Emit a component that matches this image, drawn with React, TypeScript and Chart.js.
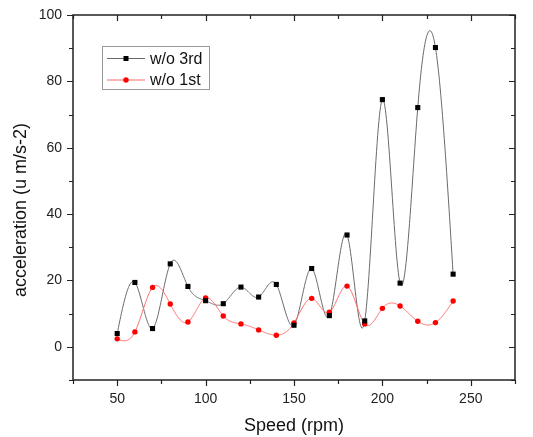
import React, { useEffect, useRef } from "react";
import { Chart, registerables } from "chart.js";

Chart.register(...registerables);

const speeds = [50, 60, 70, 80, 90, 100, 110, 120, 130, 140, 150, 160, 170, 180, 190, 200, 210, 220, 230, 240];
const wo3rd = [4, 19.4, 5.5, 25, 18.2, 13.9, 13, 18, 15, 18.8, 6.5, 23.6, 9.4, 33.7, 7.8, 74.5, 19.2, 72.1, 90.2, 21.9];
const wo1st = [2.4, 4.5, 17.9, 12.9, 7.5, 14.7, 9.3, 6.9, 5.1, 3.5, 7.2, 14.6, 10.4, 18.3, 6.9, 11.6, 12.3, 7.7, 7.3, 13.8];
const seriesLabels = ["w/o 3rd", "w/o 1st"];
const xLabelTicks = [50, 100, 150, 200, 250];
const yLabelTicks = [0, 20, 40, 60, 80, 100];
const xTitle = "Speed (rpm)";
const yTitle = "acceleration (u m/s-2)";

const FONT = "'Liberation Sans', Arial, sans-serif";

// natural cubic spline second derivatives
function splineM(xs: number[], ys: number[]) {
  const n = xs.length;
  const a = new Array(n).fill(0), b = new Array(n).fill(0), c = new Array(n).fill(0), d = new Array(n).fill(0);
  b[0] = 1; b[n - 1] = 1;
  for (let i = 1; i < n - 1; i++) {
    const h0 = xs[i] - xs[i - 1], h1 = xs[i + 1] - xs[i];
    a[i] = h0; b[i] = 2 * (h0 + h1); c[i] = h1;
    d[i] = 6 * ((ys[i + 1] - ys[i]) / h1 - (ys[i] - ys[i - 1]) / h0);
  }
  for (let i = 1; i < n; i++) {
    const m = a[i] / b[i - 1];
    b[i] -= m * c[i - 1];
    d[i] -= m * d[i - 1];
  }
  const M = new Array(n).fill(0);
  M[n - 1] = d[n - 1] / b[n - 1];
  for (let i = n - 2; i >= 0; i--) M[i] = (d[i] - c[i] * M[i + 1]) / b[i];
  return M;
}

const splinePlugin = {
  id: "spline",
  beforeDatasetsDraw(chart: any) {
    const ctx = chart.ctx;
    const xs = chart.scales.x, ys = chart.scales.y;
    const { left, right, top, bottom } = chart.chartArea;
    ctx.save();
    ctx.beginPath();
    ctx.rect(left, top, right - left, bottom - top);
    ctx.clip();
    chart.data.datasets.forEach((ds: any) => {
      const X = ds.data.map((p: any) => p.x);
      const Y = ds.data.map((p: any) => p.y);
      const M = splineM(X, Y);
      ctx.strokeStyle = ds.splineColor;
      ctx.lineWidth = 1;
      ctx.beginPath();
      for (let i = 0; i < X.length - 1; i++) {
        const h = X[i + 1] - X[i];
        const steps = 30;
        for (let k = i === 0 ? 0 : 1; k <= steps; k++) {
          const t = X[i] + (h * k) / steps;
          const A = (X[i + 1] - t) / h, B = (t - X[i]) / h;
          const v = A * Y[i] + B * Y[i + 1] + ((A * A * A - A) * M[i] + (B * B * B - B) * M[i + 1]) * h * h / 6;
          const px = xs.getPixelForValue(t), py = ys.getPixelForValue(v);
          if (i === 0 && k === 0) ctx.moveTo(px, py); else ctx.lineTo(px, py);
        }
      }
      ctx.stroke();
    });
    ctx.restore();
  },
};

const framePlugin = {
  id: "frame",
  afterDraw(chart: any) {
    const ctx = chart.ctx;
    const { left, right, top, bottom } = chart.chartArea;
    const xs = chart.scales.x;
    const ys = chart.scales.y;
    ctx.save();
    ctx.strokeStyle = "#222";
    ctx.lineWidth = 1.5;
    ctx.strokeRect(left, top, right - left, bottom - top);
    ctx.lineWidth = 1.2;
    ctx.beginPath();
    for (let v = 25; v <= 275; v += 25) {
      const px = Math.round(xs.getPixelForValue(v)) + 0.5;
      const len = v % 50 === 0 ? 6 : 4;
      ctx.moveTo(px, bottom);
      ctx.lineTo(px, bottom + len);
      ctx.moveTo(px, top);
      ctx.lineTo(px, top + len);
    }
    for (let v = -10; v <= 100; v += 10) {
      const py = Math.round(ys.getPixelForValue(v)) + 0.5;
      const len = v % 20 === 0 ? 6 : 4;
      ctx.moveTo(left, py);
      ctx.lineTo(left - len, py);
      ctx.moveTo(right, py);
      ctx.lineTo(right - len, py);
    }
    ctx.stroke();

    // y title
    ctx.save();
    ctx.translate(21, 210);
    ctx.rotate(-Math.PI / 2);
    ctx.fillStyle = "#111";
    ctx.font = `18px ${FONT}`;
    ctx.textAlign = "center";
    ctx.textBaseline = "middle";
    ctx.fillText(yTitle, 0, 0);
    ctx.restore();

    // legend
    const bx = 102, by = 46, bw = 107, bh = 43;
    ctx.fillStyle = "#fff";
    ctx.fillRect(bx, by, bw, bh);
    ctx.strokeStyle = "#999";
    ctx.lineWidth = 1;
    ctx.strokeRect(bx + 0.5, by + 0.5, bw, bh);
    chart.data.datasets.forEach((ds: any, i: number) => {
      const y = by + 12.5 + i * 21.5;
      ctx.strokeStyle = ds.splineColor;
      ctx.lineWidth = 1;
      ctx.beginPath();
      ctx.moveTo(107, y);
      ctx.lineTo(145, y);
      ctx.stroke();
      ctx.fillStyle = ds.pointBackgroundColor;
      if (ds.pointStyle === "rect") {
        ctx.fillRect(123.5, y - 2.5, 5, 5);
      } else {
        ctx.beginPath();
        ctx.arc(126, y, 2.7, 0, Math.PI * 2);
        ctx.fill();
      }
      ctx.fillStyle = "#111";
      ctx.font = `16px ${FONT}`;
      ctx.textBaseline = "middle";
      ctx.textAlign = "left";
      ctx.fillText(ds.label, 150, y + 1);
    });
    ctx.restore();
  },
};

export default function App() {
  const ref = useRef<HTMLCanvasElement>(null);
  useEffect(() => {
    const chart = new Chart(ref.current as HTMLCanvasElement, {
      type: "line",
      data: {
        datasets: [
          {
            label: seriesLabels[0],
            data: speeds.map((s, i) => ({ x: s, y: wo3rd[i] })),
            showLine: false,
            splineColor: "#6a6a6a",
            borderColor: "#000",
            pointStyle: "rect",
            pointRadius: 3.6,
            pointBackgroundColor: "#000",
            pointBorderWidth: 0,
          } as any,
          {
            label: seriesLabels[1],
            data: speeds.map((s, i) => ({ x: s, y: wo1st[i] })),
            showLine: false,
            splineColor: "#ff6a6a",
            borderColor: "#ff0000",
            pointStyle: "circle",
            pointRadius: 2.7,
            pointBackgroundColor: "#ff0000",
            pointBorderWidth: 0,
          } as any,
        ],
      },
      options: {
        animation: false,
        responsive: false,
        maintainAspectRatio: false,
        layout: { padding: { left: 0, right: 18, top: 15, bottom: 0 } },
        plugins: { legend: { display: false }, tooltip: { enabled: false } },
        scales: {
          x: {
            type: "linear",
            min: 25,
            max: 275,
            afterFit: (s: any) => { s.height = 57; },
            ticks: {
              stepSize: 25,
              autoSkip: false,
              maxRotation: 0,
              padding: 5,
              color: "#222",
              font: { family: FONT, size: 14 },
              callback: (v: any) => (xLabelTicks.includes(Number(v)) ? String(v) : ""),
            },
            grid: { drawOnChartArea: false, color: "rgba(0,0,0,0)", tickLength: 6 },
            border: { display: false },
            title: {
              display: true,
              text: xTitle,
              color: "#111",
              font: { family: FONT, size: 18 },
              padding: { top: 4, bottom: 0 },
            },
          },
          y: {
            type: "linear",
            min: -10,
            max: 100,
            afterFit: (s: any) => { s.width = 73; },
            ticks: {
              stepSize: 10,
              autoSkip: false,
              padding: 5,
              color: "#222",
              font: { family: FONT, size: 14 },
              callback: (v: any) => (yLabelTicks.includes(Number(v)) ? String(v) : ""),
            },
            grid: { drawOnChartArea: false, color: "rgba(0,0,0,0)", tickLength: 6 },
            border: { display: false },
          },
        },
      },
      plugins: [splinePlugin, framePlugin],
    });
    return () => chart.destroy();
  }, []);
  return (
    <div style={{ position: "fixed", left: 0, top: 0, width: 533, height: 437, background: "#fff" }}>
      <canvas ref={ref} width={533} height={437} />
    </div>
  );
}
